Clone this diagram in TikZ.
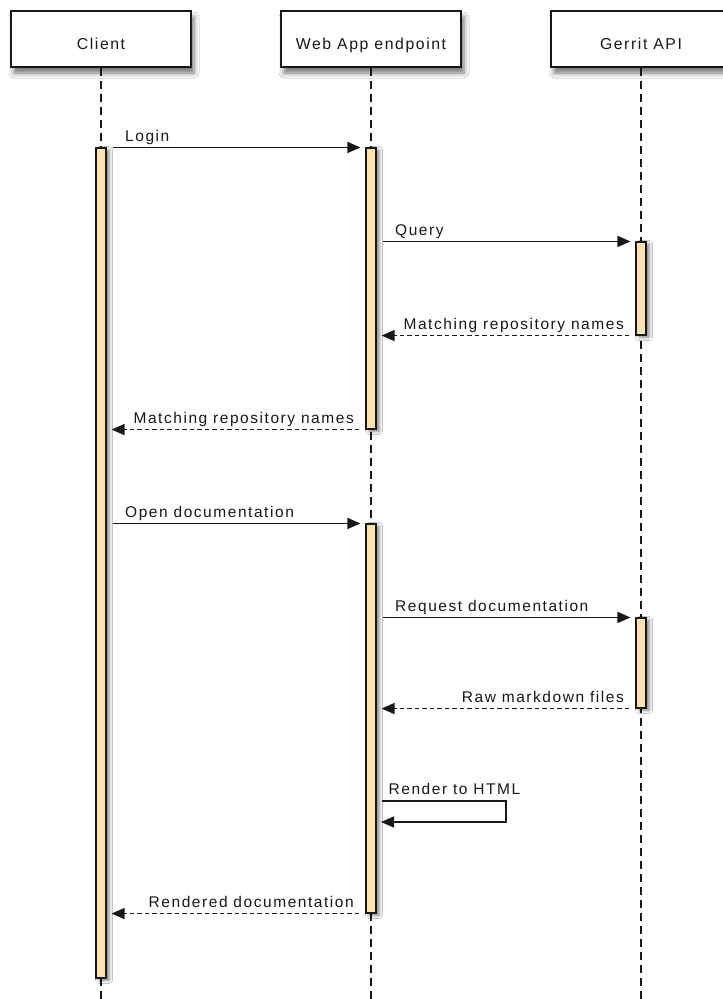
\documentclass[tikz,border=0pt]{standalone}
\usepackage{fontspec}
\setmainfont{Liberation Sans}[LetterSpace=10]
\usetikzlibrary{arrows.meta,shadows.blur}
\definecolor{barfill}{RGB}{254,226,178}
\definecolor{ink}{RGB}{24,24,24}
\begin{document}
\begin{tikzpicture}[x=1pt,y=-1pt,
  header/.style={draw=ink, line width=1.3pt, fill=white, minimum width=180pt, minimum height=56pt, inner sep=0,
    text height=20pt, text depth=0pt,
    blur shadow={shadow xshift=3pt, shadow yshift=-6pt, shadow blur radius=5pt, shadow opacity=55},
    font=\fontsize{15.8}{19}\selectfont, text=ink},
  lifeline/.style={draw=ink, line width=1.3pt, dash pattern=on 8pt off 5pt},
  bar/.style={draw=ink, fill=barfill, line width=1.1pt, minimum width=10pt, inner sep=0,
    blur shadow={shadow xshift=3pt, shadow yshift=-2pt, shadow blur radius=3.5pt, shadow opacity=50}},
  msg/.style={draw=ink, line width=1.3pt, -{Triangle[length=13pt,width=11pt]}, shorten <=6pt, shorten >=5pt},
  ret/.style={msg, dash pattern=on 4.5pt off 3pt},
  lbl/.style={font=\fontsize{15.5}{18}\selectfont, text=ink, inner sep=0}]
\clip (0,0) rectangle (723,999);
\fill[white] (0,0) rectangle (723,999);
\coordinate (bottom) at (0,1000);
% headers
\node[header] (client) at (101,39) {Client};
\node[header] (web) at (371,39) {Web App endpoint};
\node[header] (gerrit) at (641,39) {Gerrit API};
% lifelines
\draw[lifeline] (client.south) -- (client.south |- bottom);
\draw[lifeline] (web.south) -- (web.south |- bottom);
\draw[lifeline] (gerrit.south) -- (gerrit.south |- bottom);
% activation bars
\node[bar, minimum height=830pt] (cbar) at (101,563) {};
\node[bar, minimum height=281pt] (wbar1) at (371,288.5) {};
\node[bar, minimum height=93pt] (gbar1) at (641,288.5) {};
\node[bar, minimum height=389pt] (wbar2) at (371,718.5) {};
\node[bar, minimum height=90pt] (gbar2) at (641,663) {};
% messages
\draw[msg] (cbar.east |- wbar1.north) -- node[pos=0, lbl, anchor=base west, xshift=18pt, yshift=6pt] {Login} (wbar1.north west);
\draw[msg] (wbar1.east |- gbar1.north) -- node[pos=0, lbl, anchor=base west, xshift=18pt, yshift=6pt] {Query} (gbar1.north west);
\draw[ret] (gbar1.south west) -- node[pos=0, lbl, anchor=base east, xshift=-11pt, yshift=6pt] {Matching repository names} (gbar1.south west -| wbar1.east);
\draw[ret] (wbar1.south west) -- node[pos=0, lbl, anchor=base east, xshift=-11pt, yshift=6pt] {Matching repository names} (wbar1.south west -| cbar.east);
\draw[msg] (cbar.east |- wbar2.north) -- node[pos=0, lbl, anchor=base west, xshift=18pt, yshift=6pt] {Open documentation} (wbar2.north west);
\draw[msg] (wbar2.east |- gbar2.north) -- node[pos=0, lbl, anchor=base west, xshift=18pt, yshift=6pt] {Request documentation} (gbar2.north west);
\draw[ret] (gbar2.south west) -- node[pos=0, lbl, anchor=base east, xshift=-11pt, yshift=6pt] {Raw markdown files} (gbar2.south west -| wbar2.east);
\coordinate (rs) at (376,801);
\coordinate (re) at (376,822);
\draw[msg] (rs) -- node[pos=0, lbl, anchor=base west, xshift=12pt, yshift=7pt] {Render to HTML} ++(130,0) |- (re);
\draw[ret] (wbar2.south west) -- node[pos=0, lbl, anchor=base east, xshift=-11pt, yshift=6pt] {Rendered documentation} (wbar2.south west -| cbar.east);
\end{tikzpicture}
\end{document}
